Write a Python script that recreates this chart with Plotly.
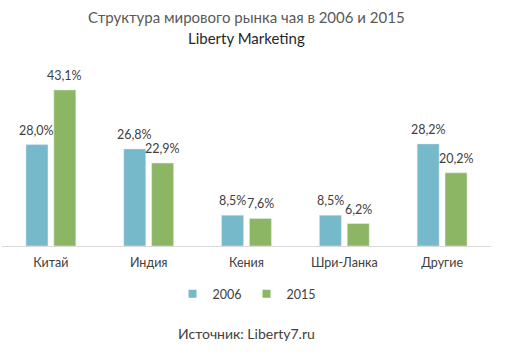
import plotly.graph_objects as go

categories = ["Китай", "Индия", "Кения", "Шри-Ланка", "Другие"]
values_2006 = [28.0, 26.8, 8.5, 8.5, 28.2]
values_2015 = [43.1, 22.9, 7.6, 6.2, 20.2]
series_names = ["2006", "2015"]
colors = ["#75b9cb", "#8cb663"]

FONT = "Lato, 'Open Sans', sans-serif"
TXT = "#404040"

fig = go.Figure()
for name, vals, col in zip(series_names, [values_2006, values_2015], colors):
    fig.add_trace(go.Bar(
        x=categories, y=vals, name=name, marker_color=col,
        cliponaxis=False, showlegend=False,
    ))
# legend entries with small square markers
for name, col in zip(series_names, colors):
    fig.add_trace(go.Scatter(
        x=[None], y=[None], mode="markers", name=name,
        marker=dict(symbol="square", size=8, color=col), showlegend=True,
    ))

# value labels above bars
annotations = []
for shift, vals in zip([-14, 14], [values_2006, values_2015]):
    for cat, v in zip(categories, vals):
        annotations.append(dict(
            x=cat, y=v, xref="x", yref="y", xshift=shift, yshift=5,
            text=f"{v:.1f}%".replace(".", ","), showarrow=False,
            xanchor="center", yanchor="bottom",
            font=dict(size=12.5, color=TXT, family=FONT),
        ))

H_PLOT = 176
def py(pix):
    return (246 - pix) / H_PLOT

annotations += [
    dict(text="Структура мирового рынка чая в 2006 и 2015", xref="paper", yref="paper",
         x=0.5, y=py(17), xanchor="center", yanchor="middle", showarrow=False,
         font=dict(size=15, color="#595959")),
    dict(text="Liberty Marketing", xref="paper", yref="paper",
         x=0.5, y=py(38), xanchor="center", yanchor="middle", showarrow=False,
         font=dict(size=15, color="#262626")),
    dict(text="Источник: Liberty7.ru", xref="paper", yref="paper",
         x=0.5, y=py(333), xanchor="center", yanchor="middle", showarrow=False,
         font=dict(size=14, color=TXT)),
]

fig.update_layout(
    width=512, height=356,
    margin=dict(l=2, r=21, t=70, b=110),
    paper_bgcolor="white", plot_bgcolor="white",
    barmode="group", bargap=0.43, bargroupgap=0.21,
    font=dict(family=FONT, color=TXT, size=13),
    legend=dict(orientation="h", x=0.5, xanchor="center", y=py(294), yanchor="middle",
                font=dict(size=12.5, color=TXT), itemwidth=30, traceorder="normal",
                tracegroupgap=0),
    xaxis=dict(showline=True, linecolor="#d9d9d9", linewidth=1, ticks="outside",
               ticklen=5, tickcolor="rgba(0,0,0,0)", tickfont=dict(size=12.5, color=TXT),
               showgrid=False, automargin=False),
    yaxis=dict(range=[0, 48.6], visible=False, showgrid=False, automargin=False),
    annotations=annotations,
)

fig.write_html("out.html", config={"displayModeBar": False},
               post_script="document.body.style.margin='0';")
